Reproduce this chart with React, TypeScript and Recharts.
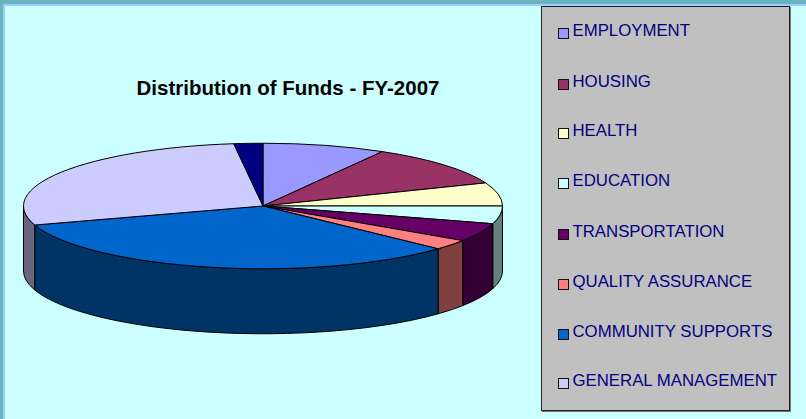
import React from "react";
import { PieChart, Pie, Cell, Legend } from "recharts";

const sliceNames = [
  "EMPLOYMENT",
  "HOUSING",
  "HEALTH",
  "EDUCATION",
  "TRANSPORTATION",
  "QUALITY ASSURANCE",
  "COMMUNITY SUPPORTS",
  "GENERAL MANAGEMENT",
  "OTHER",
];
const sliceValues = [8.3, 10.7, 6.0, 4.55, 4.75, 2.65, 33.15, 27.95, 1.95];
const sliceColors = ["#9999FF", "#993366", "#FFFFCC", "#CCFFFF", "#660066", "#FF8080", "#0066CC", "#CCCCFF", "#000080"];
const wallColors = ["#4D4D80", "#4D1A33", "#808066", "#668080", "#330033", "#804040", "#003366", "#666680", "#000040"];
// the last slice has no entry in the original legend
const legendNames = sliceNames.slice(0, 8);
const legendRowTops = [14, 65, 114, 164, 215, 265, 315, 364];

const data = sliceNames.map((name, i) => ({ name, value: sliceValues[i] }));

const SQUASH = 0.262;
const DEPTH = 65;

// Draws a recharts sector flattened to an ellipse, with its outer wall
function Sector3D(props: any) {
  const { cx, cy, outerRadius, startAngle, endAngle, index } = props;
  const rx = outerRadius;
  const ry = outerRadius * SQUASH;
  const pt = (a: number, dy = 0) => {
    const r = (a * Math.PI) / 180;
    return `${cx + rx * Math.cos(r)} ${cy - ry * Math.sin(r) + dy}`;
  };
  const large = startAngle - endAngle > 180 ? 1 : 0;
  const top = `M${cx} ${cy} L${pt(startAngle)} A${rx} ${ry} 0 ${large} 1 ${pt(endAngle)} Z`;

  // only the front half of the rim can be seen
  const a0 = Math.min(startAngle, 0);
  const a1 = Math.max(endAngle, -180);
  const wall =
    a0 > a1
      ? `M${pt(a0)} A${rx} ${ry} 0 0 1 ${pt(a1)} L${pt(a1, DEPTH)} A${rx} ${ry} 0 0 0 ${pt(a0, DEPTH)} Z`
      : null;

  return (
    <g>
      {wall && <path d={wall} fill={wallColors[index]} stroke="#000" strokeWidth={1} />}
      <path d={top} fill={sliceColors[index]} stroke="#000" strokeWidth={1} strokeLinejoin="round" />
    </g>
  );
}

function FundsLegend() {
  return (
    <div style={{ position: "relative", width: 247, height: 403, background: "#C0C0C0", border: "1px solid #222", boxShadow: "1px 1px 0 #777" }}>
      {legendNames.map((name, i) => (
        <div key={name} style={{ position: "absolute", left: 15.5, top: legendRowTops[i], height: 20, display: "flex", alignItems: "center" }}>
          <span style={{ display: "inline-block", boxSizing: "border-box", width: 11, height: 11, marginTop: 5, background: sliceColors[i], border: "1.5px solid #111" }} />
          <span style={{ marginLeft: 4, fontFamily: "'Liberation Sans', Arial, sans-serif", fontSize: 16.8, color: "#000080", whiteSpace: "nowrap" }}>{name}</span>
        </div>
      ))}
    </div>
  );
}

export default function App() {
  return (
    <div style={{ position: "absolute", left: 0, top: 0, width: 806, height: 419, overflow: "hidden", background: "#CCFFFF" }}>
      <div style={{ position: "absolute", left: 0, top: 0, width: 806, height: 4, background: "#69B4BC" }} />
      <div style={{ position: "absolute", left: 3, top: 4, width: 803, height: 1.5, background: "#99CCFF" }} />
      <div style={{ position: "absolute", left: 0, top: 0, width: 3, height: 419, background: "#69B4BC" }} />
      <div style={{ position: "absolute", left: 3, top: 4, width: 1.5, height: 415, background: "#99CCFF" }} />
      <div style={{ position: "absolute", left: 0, top: 0 }}>
        <PieChart width={806} height={419} margin={{ top: 0, right: 0, bottom: 0, left: 0 }}>
          <text x={288} y={87} dominantBaseline="central" textAnchor="middle" fontFamily="'Liberation Sans', Arial, sans-serif" fontWeight="bold" fontSize={20.5} fill="#000">
            Distribution of Funds - FY-2007
          </text>
          <Pie
            data={data}
            dataKey="value"
            nameKey="name"
            cx={263}
            cy={206}
            outerRadius={239.5}
            startAngle={90}
            endAngle={-270}
            stroke="none"
            isAnimationActive={false}
            shape={Sector3D}
            rootTabIndex={-1}
          >
            {data.map((d, i) => (
              <Cell key={d.name} fill={sliceColors[i]} />
            ))}
          </Pie>
          <Legend
            layout="vertical"
            align="right"
            verticalAlign="top"
            content={() => <FundsLegend />}
            wrapperStyle={{ position: "absolute", left: 541, top: 6, width: 249, height: 405 }}
          />
        </PieChart>
      </div>
    </div>
  );
}
